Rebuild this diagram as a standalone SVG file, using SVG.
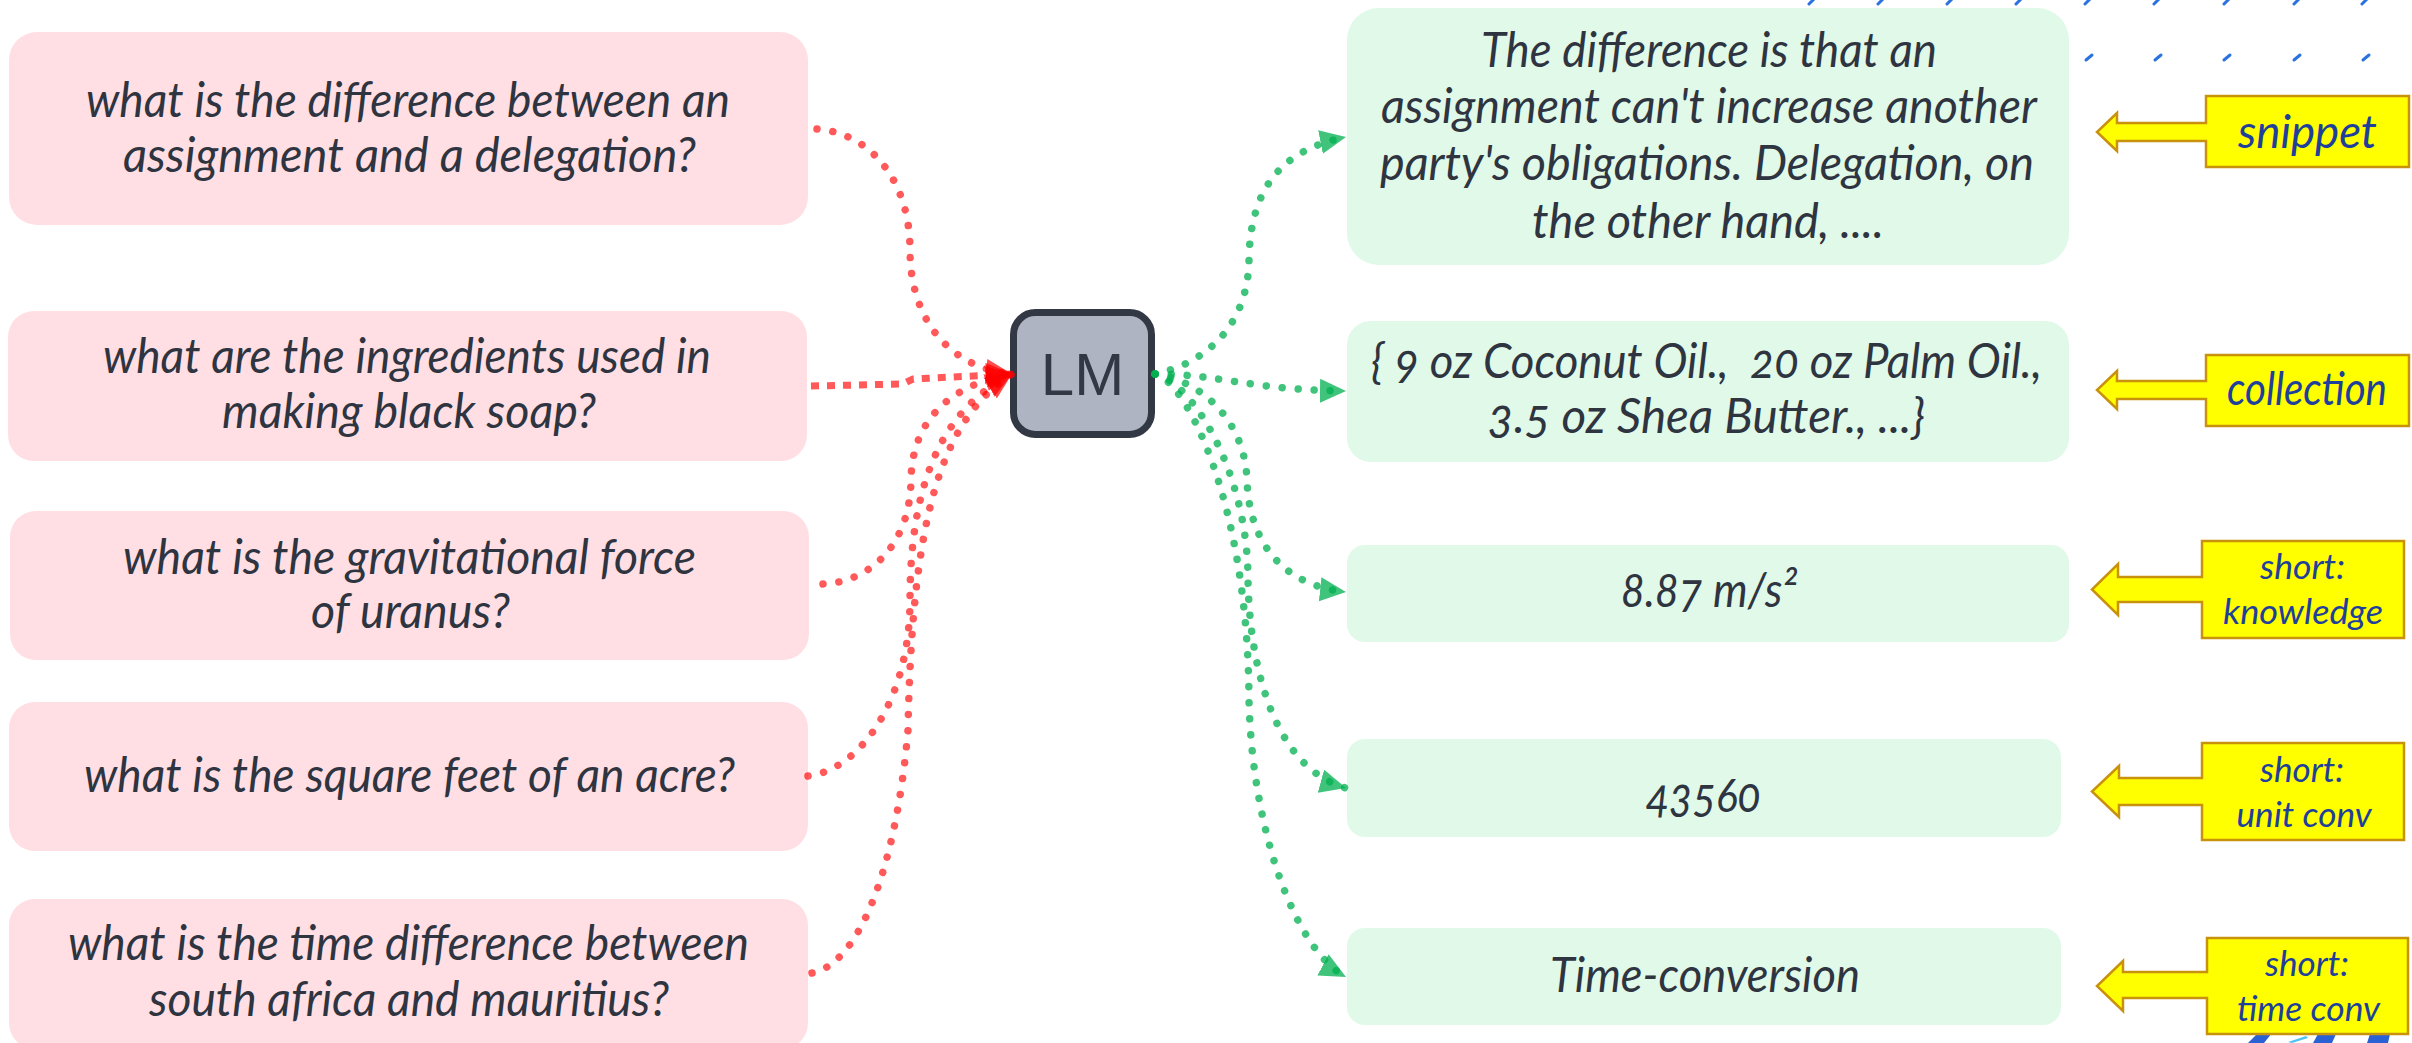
<svg xmlns="http://www.w3.org/2000/svg" width="2412" height="1043" viewBox="0 0 2412 1043">
<defs>
<style>
.q{fill:#ffdfe4}
.a{fill:#e0f9e8}
.t{font-family:Lato,"Open Sans","Noto Sans",sans-serif;font-style:italic;font-size:48px;fill:#2e3440;text-anchor:middle;white-space:pre;font-variant-numeric:oldstyle-nums}
.lb{fill:#ffff00;stroke:#c8920c;stroke-width:2.5;stroke-linejoin:miter}
.lt{font-family:Lato,"Open Sans","Noto Sans",sans-serif;font-style:italic;fill:#1e3f9a;text-anchor:middle}
.red{fill:none;stroke:#ff0000;stroke-opacity:0.65;stroke-width:7.5;stroke-linecap:round;stroke-dasharray:0.01 16}
.redsq{fill:none;stroke:#ff0000;stroke-opacity:0.65;stroke-width:7;stroke-linecap:butt;stroke-dasharray:8 8}
.grn{fill:none;stroke:#00b050;stroke-opacity:0.75;stroke-width:7.5;stroke-linecap:round;stroke-dasharray:0.01 16}
.bm{stroke:#2a72e0;stroke-width:3;stroke-linecap:round}
</style>
<marker id="ahr" markerUnits="userSpaceOnUse" markerWidth="30" markerHeight="28" refX="26" refY="12.5" orient="auto">
<path d="M0,0 L26,12.5 L0,25 z" fill="#ff0000" fill-opacity="0.7"/>
</marker>
<marker id="ahg" markerUnits="userSpaceOnUse" markerWidth="30" markerHeight="28" refX="26" refY="12" orient="auto">
<path d="M0,0 L26,12 L0,24 z" fill="#00b050" fill-opacity="0.75"/>
</marker>
</defs>
<rect width="2412" height="1043" fill="#ffffff"/>

<g id="decor">
<line class="bm" x1="1809" y1="4" x2="1815" y2="-2"/>
<line class="bm" x1="1878" y1="4" x2="1884" y2="-2"/>
<line class="bm" x1="1947" y1="4" x2="1953" y2="-2"/>
<line class="bm" x1="2016" y1="4" x2="2022" y2="-2"/>
<line class="bm" x1="2085" y1="4" x2="2091" y2="-2"/>
<line class="bm" x1="2154" y1="4" x2="2160" y2="-2"/>
<line class="bm" x1="2224" y1="4" x2="2230" y2="-2"/>
<line class="bm" x1="2294" y1="4" x2="2300" y2="-2"/>
<line class="bm" x1="2362" y1="4" x2="2368" y2="-2"/>
<line class="bm" x1="2086" y1="60" x2="2092" y2="55"/>
<line class="bm" x1="2155" y1="60" x2="2161" y2="55"/>
<line class="bm" x1="2224" y1="60" x2="2230" y2="55"/>
<line class="bm" x1="2294" y1="60" x2="2300" y2="55"/>
<line class="bm" x1="2363" y1="60" x2="2369" y2="55"/>
<polygon points="2248,1043 2258,1033 2272,1033 2264,1043" fill="#2a62d6"/>
<polygon points="2288,1042 2306,1036 2308,1038 2292,1043" fill="#4fc3f0"/>
<polygon points="2313,1043 2318,1034 2336,1034 2332,1043" fill="#2a62d6"/>
<polygon points="2367,1043 2370,1034 2390,1034 2388,1043" fill="#2a62d6"/>
</g>

<g id="q1"><rect class="q" x="9" y="32" width="799" height="193" rx="28"/>
<text class="t" x="408" y="117" textLength="644" lengthAdjust="spacingAndGlyphs">what is the difference between an</text>
<text class="t" x="409.5" y="172" textLength="573" lengthAdjust="spacingAndGlyphs">assignment and a delegation?</text></g>

<g id="q2"><rect class="q" x="8" y="311" width="799" height="150" rx="26"/>
<text class="t" x="407" y="373" textLength="608" lengthAdjust="spacingAndGlyphs">what are the ingredients used in</text>
<text class="t" x="409" y="428" textLength="374" lengthAdjust="spacingAndGlyphs">making black soap?</text></g>

<g id="q3"><rect class="q" x="10" y="511" width="799" height="149" rx="26"/>
<text class="t" x="409.5" y="574" textLength="573" lengthAdjust="spacingAndGlyphs">what is the gravitational force</text>
<text class="t" x="410.5" y="628" textLength="199" lengthAdjust="spacingAndGlyphs">of uranus?</text></g>

<g id="q4"><rect class="q" x="9" y="702" width="799" height="149" rx="26"/>
<text class="t" x="409.5" y="792" textLength="651" lengthAdjust="spacingAndGlyphs">what is the square feet of an acre?</text></g>

<g id="q5"><rect class="q" x="9" y="899" width="799" height="150" rx="26"/>
<text class="t" x="408.5" y="960" textLength="681" lengthAdjust="spacingAndGlyphs">what is the time difference between</text>
<text class="t" x="409" y="1016" textLength="520" lengthAdjust="spacingAndGlyphs">south africa and mauritius?</text></g>

<g id="lm"><rect x="1013.5" y="312.5" width="138" height="122" rx="22" fill="#aeb4c2" stroke="#323844" stroke-width="7"/>
<text x="1082.5" y="395" font-family="Liberation Sans, Arial, sans-serif" font-size="60" fill="#323844" text-anchor="middle">LM</text></g>

<g id="a1"><rect class="a" x="1347" y="8" width="722" height="257" rx="32"/>
<text class="t" x="1709" y="67" textLength="456" lengthAdjust="spacingAndGlyphs">The difference is that an</text>
<text class="t" x="1709" y="123" textLength="656" lengthAdjust="spacingAndGlyphs">assignment can't increase another</text>
<text class="t" x="1707" y="180" textLength="654" lengthAdjust="spacingAndGlyphs">party's obligations. Delegation, on</text>
<text class="t" x="1708" y="238" textLength="352" lengthAdjust="spacingAndGlyphs">the other hand, ....</text></g>

<g id="a2"><rect class="a" x="1347" y="321" width="722" height="141" rx="24"/>
<text class="t" x="1706.5" y="378" textLength="671" lengthAdjust="spacingAndGlyphs">{ 9 oz Coconut Oil.,  20 oz Palm Oil.,</text>
<text class="t" x="1706.5" y="433" textLength="437" lengthAdjust="spacingAndGlyphs">3.5 oz Shea Butter., ...}</text></g>

<g id="a3"><rect class="a" x="1347" y="545" width="722" height="97" rx="18"/>
<text class="t" x="1709" y="607" textLength="176" lengthAdjust="spacingAndGlyphs">8.87 m/s²</text></g>

<g id="a4"><rect class="a" x="1347" y="739" width="714" height="98" rx="18"/>
<text class="t" x="1703.5" y="812" textLength="115" lengthAdjust="spacingAndGlyphs">43560</text></g>

<g id="a5"><rect class="a" x="1347" y="928" width="714" height="97" rx="18"/>
<text class="t" x="1705" y="992" textLength="310" lengthAdjust="spacingAndGlyphs">Time-conversion</text></g>

<g id="l1"><polygon class="lb" points="2206,96 2409,96 2409,167 2206,167 2206,141 2117,141 2117,151 2097,132 2117,113 2117,123 2206,123"/>
<text class="lt" x="2307.5" y="148" font-size="47" textLength="139" lengthAdjust="spacingAndGlyphs">snippet</text></g>

<g id="l2"><polygon class="lb" points="2206,355 2409,355 2409,426 2206,426 2206,399 2117,399 2117,409 2097,390 2117,371 2117,381 2206,381"/>
<text class="lt" x="2307" y="405" font-size="47" textLength="160" lengthAdjust="spacingAndGlyphs">collection</text></g>

<g id="l3"><polygon class="lb" points="2202,541 2404,541 2404,638 2202,638 2202,602 2118,602 2118,615 2092,589.5 2118,564 2118,577 2202,577"/>
<text class="lt" x="2302.5" y="578.5" font-size="34" textLength="85" lengthAdjust="spacingAndGlyphs">short:</text>
<text class="lt" x="2303" y="624" font-size="34" textLength="160" lengthAdjust="spacingAndGlyphs">knowledge</text></g>

<g id="l4"><polygon class="lb" points="2202,743 2404,743 2404,840 2202,840 2202,805 2119,805 2119,817 2092,791.5 2119,766 2119,778 2202,778"/>
<text class="lt" x="2302" y="781.5" font-size="34" textLength="84" lengthAdjust="spacingAndGlyphs">short:</text>
<text class="lt" x="2304" y="827" font-size="34" textLength="135" lengthAdjust="spacingAndGlyphs">unit conv</text></g>

<g id="l5"><polygon class="lb" points="2207,938 2408,938 2408,1034 2207,1034 2207,998 2123,998 2123,1011 2097,986 2123,961 2123,972 2207,972"/>
<text class="lt" x="2307" y="975.5" font-size="34" textLength="84" lengthAdjust="spacingAndGlyphs">short:</text>
<text class="lt" x="2308.5" y="1020.5" font-size="34" textLength="143" lengthAdjust="spacingAndGlyphs">time conv</text></g>

<g id="connectors">
<path class="red" marker-end="url(#ahr)" d="M817,129 C870,133 910,180 910,250 C910,320 950,368 1012,374"/>
<path class="redsq" marker-end="url(#ahr)" d="M811,386 L903,384 L913,379 L1012,374"/>
<path class="red" marker-end="url(#ahr)" d="M823,584 C870,582 910,545 911,480 C912,420 950,385 1012,374"/>
<path class="red" marker-end="url(#ahr)" d="M808,776 C860,770 910,700 910,600 C910,470 950,405 1012,374"/>
<path class="red" marker-end="url(#ahr)" d="M812,973 C855,965 895,880 908,730 C912,520 940,420 1012,374"/>
<path class="grn" marker-end="url(#ahg)" d="M1155,374 C1200,365 1248,330 1249,260 C1250,190 1280,150 1346,137"/>
<path class="grn" marker-end="url(#ahg)" d="M1155,374 C1220,374 1250,390 1346,391"/>
<path class="grn" marker-end="url(#ahg)" d="M1155,374 C1200,380 1245,420 1247,480 C1249,540 1280,585 1346,592"/>
<path class="grn" marker-end="url(#ahg)" d="M1155,374 C1190,380 1248,470 1248,580 C1250,680 1280,770 1346,788"/>
<path class="grn" marker-end="url(#ahg)" d="M1155,374 C1185,380 1248,500 1249,700 C1252,830 1295,950 1346,977"/>
</g>
</svg>
